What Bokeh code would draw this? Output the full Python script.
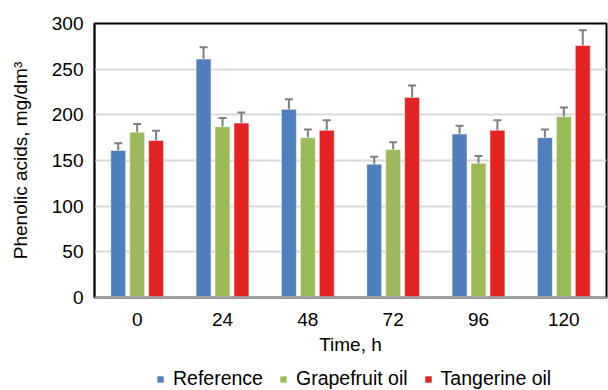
from bokeh.plotting import figure
from bokeh.layouts import column
from bokeh.models import ColumnDataSource, Whisker, TeeHead, Legend, LegendItem, Span, SingleIntervalTicker
from bokeh.transform import dodge
from bokeh.embed import file_html
from bokeh.resources import INLINE

times = ["0", "24", "48", "72", "96", "120"]
reference = [161, 261, 206, 146, 179, 175]
grapefruit = [181, 187, 175, 162, 147, 198]
tangerine = [172, 191, 183, 219, 183, 276]
ref_err = [8, 13, 11, 8, 9, 9]
grape_err = [9, 9.5, 9, 8, 8, 10]
tang_err = [10.5, 11.5, 11, 13, 11, 16.5]

series = [
    ("Reference", reference, ref_err, "#4f7fbd", -0.222),
    ("Grapefruit oil", grapefruit, grape_err, "#9bbb59", 0.0),
    ("Tangerine oil", tangerine, tang_err, "#e32422", 0.222),
]

FONT = "Liberation Sans"
FS = "19px"

p = figure(x_range=times, y_range=(0, 300), output_backend="svg", toolbar_location=None,
           width=608, height=358, min_border_left=94, min_border_right=2,
           min_border_top=23, min_border_bottom=61)

# legend strip below the chart; its y window lies far above the data so the
# proxy bars that feed the legend never show
lf = figure(width=608, height=32, x_range=p.x_range, y_range=(1000, 2000), output_backend="svg",
            toolbar_location=None, min_border=0, x_axis_location=None, y_axis_location=None)
lf.outline_line_color = None
lf.xgrid.grid_line_color = None
lf.ygrid.grid_line_color = None

items = []
for name, vals, errs, color, off in series:
    src = ColumnDataSource(dict(t=times, v=vals,
                                lo=[a - b for a, b in zip(vals, errs)],
                                hi=[a + b for a, b in zip(vals, errs)]))
    p.vbar(x=dodge("t", off, range=p.x_range), top="v", width=0.175, source=src,
           fill_color=color, line_color="white", line_alpha=0.5, line_width=1)
    w = Whisker(base=dodge("t", off, range=p.x_range), upper="hi", lower="lo", source=src,
                line_color="#7f7f7f", line_width=2,
                upper_head=TeeHead(size=8, line_color="#7f7f7f", line_width=2),
                lower_head=TeeHead(size=8, line_color="#7f7f7f", line_width=2))
    p.add_layout(w)
    proxy = lf.vbar(x=dodge("t", off, range=lf.x_range), top="v", width=0.175, source=src,
                    fill_color=color, line_color=None)
    items.append(LegendItem(label=name, renderers=[proxy]))

p.add_layout(Span(location=0, dimension="width", line_color="#a6a6a6", line_width=2))

p.outline_line_color = "black"
p.outline_line_width = 2
p.xgrid.grid_line_color = None
p.ygrid.grid_line_color = "#d9d9d9"
p.ygrid.grid_line_width = 2
p.yaxis.ticker = SingleIntervalTicker(interval=50)

for ax in (p.xaxis[0], p.yaxis[0]):
    ax.major_tick_line_color = None
    ax.minor_tick_line_color = None
    ax.major_label_text_font = FONT
    ax.major_label_text_font_size = FS
    ax.major_label_text_color = "black"
    ax.axis_label_text_font = FONT
    ax.axis_label_text_font_size = FS
    ax.axis_label_text_font_style = "normal"
    ax.axis_label_text_color = "black"

p.yaxis.axis_line_color = "black"
p.yaxis.axis_line_width = 1.5
p.yaxis.major_label_standoff = 5
p.yaxis.axis_label = "Phenolic acids, mg/dm³"
p.yaxis.axis_label_standoff = 18

p.xaxis.axis_line_color = "#a6a6a6"
p.xaxis.axis_line_width = 2
p.xaxis.major_label_standoff = 9
p.xaxis.axis_label = "Time, h"
p.xaxis.axis_label_standoff = 5

legend = Legend(items=items, orientation="horizontal", location=(62, 0),
                label_text_font=FONT, label_text_font_size="19.5px", label_text_color="black",
                glyph_width=8, glyph_height=8, spacing=16, label_standoff=9,
                border_line_color=None, background_fill_alpha=0, margin=0, padding=0)
lf.add_layout(legend)

open("out.html", "w").write(file_html(column(p, lf), INLINE))
